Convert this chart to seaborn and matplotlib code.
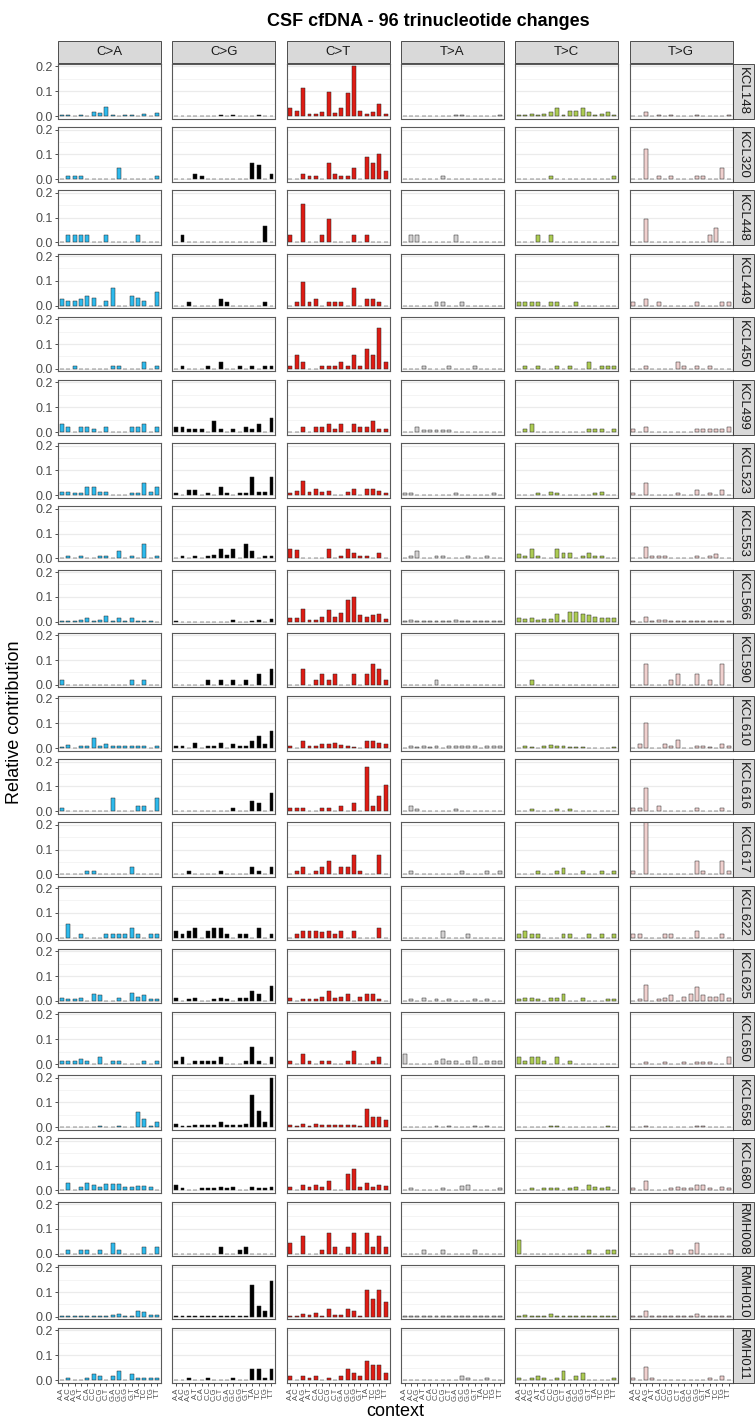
import matplotlib
matplotlib.use("Agg")
import matplotlib.pyplot as plt
import numpy as np
import pandas as pd
import seaborn as sns
from matplotlib.patches import Rectangle

sns.set_theme(style="white")
plt.rcParams['font.family'] = ['Liberation Sans', 'DejaVu Sans']

mut_types = ["C>A", "C>G", "C>T", "T>A", "T>C", "T>G"]
contexts = ["A.A", "A.C", "A.G", "A.T", "C.A", "C.C", "C.G", "C.T",
            "G.A", "G.C", "G.G", "G.T", "T.A", "T.C", "T.G", "T.T"]
type_colors = ["#2EBAED", "#000000", "#DE1C14", "#D4D2D2", "#ADCC54", "#F0D0CE"]
samples = ["KCL148", "KCL320", "KCL448", "KCL449", "KCL450", "KCL499", "KCL523",
           "KCL553", "KCL566", "KCL590", "KCL610", "KCL616", "KCL617", "KCL622",
           "KCL625", "KCL650", "KCL658", "KCL680", "RMH008", "RMH010", "RMH011"]

# each sample: six lists of 16 values (C>A, C>G, C>T, T>A, T>C, T>G)
KCL148 = [
    [0.003, 0.004, 0.002, 0.004, 0.002, 0.015, 0.012, 0.035, 0.004, 0, 0.004, 0.006, 0, 0.008, 0, 0.012],
    [0, 0, 0, 0, 0, 0, 0, 0.003, 0, 0.003, 0, 0, 0, 0.003, 0, 0],
    [0.032, 0.02, 0.112, 0.007, 0.01, 0.017, 0.095, 0.012, 0.033, 0.092, 0.203, 0.022, 0.008, 0.015, 0.05, 0.01],
    [0, 0, 0, 0, 0, 0, 0, 0.002, 0.003, 0.003, 0, 0, 0, 0, 0, 0.004],
    [0.006, 0.006, 0.007, 0.003, 0.008, 0.018, 0.032, 0.006, 0.022, 0.02, 0.032, 0.015, 0.005, 0.01, 0.016, 0.006],
    [0, 0, 0.015, 0, 0.003, 0, 0.003, 0, 0, 0, 0.003, 0, 0, 0, 0, 0.004]]
KCL320 = [
    [0, 0.012, 0.012, 0.012, 0, 0, 0, 0, 0, 0.045, 0, 0, 0, 0, 0, 0.013],
    [0, 0, 0, 0.022, 0.012, 0, 0, 0, 0, 0, 0, 0, 0.067, 0.058, 0, 0.022],
    [0, 0, 0.022, 0.013, 0.013, 0, 0.067, 0.022, 0.013, 0.013, 0.045, 0, 0.09, 0.067, 0.1, 0.033],
    [0, 0, 0, 0, 0, 0, 0.012, 0, 0, 0, 0, 0, 0, 0, 0, 0],
    [0, 0, 0, 0, 0, 0.012, 0, 0, 0, 0, 0, 0, 0, 0, 0, 0.012],
    [0, 0, 0.122, 0, 0.012, 0, 0.012, 0, 0, 0, 0.012, 0.012, 0, 0, 0.045, 0]]
KCL448 = [
    [0, 0.03, 0.03, 0.03, 0.03, 0, 0, 0.03, 0, 0, 0, 0, 0.03, 0, 0, 0],
    [0, 0.03, 0, 0, 0, 0, 0, 0, 0, 0, 0, 0, 0, 0, 0.065, 0],
    [0.03, 0, 0.155, 0, 0, 0.03, 0.095, 0, 0, 0, 0.03, 0, 0.03, 0, 0, 0],
    [0, 0.03, 0.03, 0, 0, 0, 0, 0, 0.03, 0, 0, 0, 0, 0, 0, 0],
    [0, 0, 0, 0.03, 0, 0.03, 0, 0, 0, 0, 0, 0, 0, 0, 0, 0],
    [0, 0, 0.095, 0, 0, 0, 0, 0, 0, 0, 0, 0, 0.03, 0.06, 0, 0]]
KCL449 = [
    [0.027, 0.017, 0.017, 0.027, 0.04, 0.03, 0, 0.017, 0.07, 0, 0, 0.04, 0.03, 0.017, 0, 0.055],
    [0, 0, 0.013, 0, 0, 0, 0, 0.027, 0.013, 0, 0, 0, 0, 0, 0.013, 0],
    [0, 0.013, 0.097, 0.013, 0.027, 0, 0.013, 0.013, 0.013, 0, 0.07, 0, 0.027, 0.027, 0.013, 0],
    [0, 0, 0, 0, 0, 0.013, 0.013, 0, 0, 0.013, 0, 0, 0, 0, 0, 0],
    [0.013, 0.013, 0.013, 0.013, 0, 0.013, 0.013, 0, 0, 0.013, 0, 0, 0, 0, 0, 0],
    [0.013, 0, 0.027, 0, 0.013, 0, 0, 0, 0, 0, 0.013, 0, 0, 0, 0.013, 0.013]]
KCL450 = [
    [0, 0, 0.013, 0, 0, 0, 0, 0, 0.013, 0.013, 0, 0, 0, 0.027, 0, 0.013],
    [0, 0.013, 0, 0, 0, 0.013, 0, 0.027, 0, 0, 0.013, 0, 0.013, 0, 0.013, 0.013],
    [0.013, 0.055, 0.027, 0, 0, 0.013, 0.013, 0.013, 0.027, 0.013, 0.055, 0.013, 0.082, 0.055, 0.165, 0.027],
    [0, 0, 0, 0.013, 0, 0, 0, 0.013, 0, 0, 0, 0.013, 0, 0, 0, 0],
    [0, 0.013, 0, 0.013, 0, 0, 0.013, 0, 0.013, 0, 0, 0.027, 0, 0.013, 0.013, 0.013],
    [0, 0, 0.013, 0, 0, 0, 0, 0.027, 0.013, 0, 0.013, 0, 0.013, 0, 0, 0]]
KCL499 = [
    [0.033, 0.022, 0, 0.022, 0.022, 0.011, 0, 0.022, 0, 0, 0, 0.022, 0.022, 0.033, 0, 0.022],
    [0.022, 0.022, 0.011, 0.011, 0.011, 0, 0.044, 0.011, 0, 0.011, 0, 0.022, 0.011, 0.033, 0, 0.055],
    [0, 0, 0.022, 0, 0.022, 0.022, 0.033, 0.011, 0.033, 0, 0.033, 0.022, 0.022, 0.044, 0.011, 0.011],
    [0, 0, 0.022, 0.008, 0.008, 0.008, 0.008, 0.008, 0, 0, 0, 0, 0, 0, 0, 0],
    [0, 0.011, 0.033, 0, 0, 0, 0, 0, 0, 0, 0, 0.011, 0.011, 0.011, 0, 0.011],
    [0.011, 0, 0.022, 0, 0, 0, 0, 0, 0, 0, 0.011, 0.011, 0.011, 0.011, 0.011, 0.022]]
KCL523 = [
    [0.015, 0.015, 0.01, 0.01, 0.033, 0.033, 0.015, 0.015, 0, 0, 0, 0.01, 0.01, 0.048, 0.015, 0.033],
    [0.01, 0, 0.022, 0.022, 0, 0.01, 0, 0.033, 0.01, 0, 0.01, 0.01, 0.072, 0.015, 0.015, 0.072],
    [0.01, 0.018, 0.057, 0.012, 0.025, 0.015, 0.018, 0, 0, 0.012, 0.025, 0, 0.025, 0.025, 0.018, 0.01],
    [0.01, 0.01, 0, 0, 0, 0, 0, 0, 0.01, 0, 0, 0, 0, 0, 0.01, 0],
    [0, 0, 0, 0.01, 0, 0.015, 0.01, 0, 0, 0, 0, 0, 0.01, 0.015, 0, 0],
    [0.01, 0, 0.048, 0, 0, 0, 0, 0.01, 0, 0, 0.022, 0, 0.01, 0, 0.022, 0]]
KCL553 = [
    [0, 0.01, 0, 0.01, 0, 0, 0.01, 0.01, 0, 0.03, 0, 0.01, 0, 0.06, 0, 0.01],
    [0, 0.01, 0, 0.01, 0, 0.01, 0.013, 0.038, 0.013, 0.04, 0, 0.058, 0.03, 0, 0.01, 0.01],
    [0.04, 0.032, 0, 0, 0, 0, 0.04, 0, 0.01, 0.04, 0.02, 0.01, 0.01, 0, 0.02, 0],
    [0, 0.01, 0.03, 0, 0, 0.01, 0.01, 0, 0, 0, 0.01, 0, 0, 0.01, 0, 0],
    [0.018, 0.01, 0.04, 0.01, 0, 0, 0.04, 0.02, 0.02, 0, 0.01, 0.02, 0.01, 0.01, 0, 0],
    [0, 0, 0.048, 0.01, 0.01, 0.01, 0, 0, 0, 0, 0.01, 0, 0.01, 0.018, 0, 0]]
KCL566 = [
    [0.002, 0.003, 0.002, 0.007, 0.013, 0.004, 0.007, 0.022, 0.004, 0.013, 0.003, 0.015, 0.004, 0.003, 0.002, 0],
    [0.004, 0, 0, 0, 0, 0, 0, 0, 0, 0.008, 0, 0, 0.004, 0.008, 0, 0.01],
    [0.015, 0.015, 0.05, 0.008, 0.008, 0.02, 0.045, 0.02, 0.035, 0.087, 0.1, 0.027, 0.017, 0.027, 0.03, 0.01],
    [0.003, 0.008, 0.002, 0.004, 0.002, 0.003, 0.004, 0.003, 0.006, 0.002, 0.004, 0.002, 0.003, 0.002, 0.003, 0.002],
    [0.013, 0.01, 0.015, 0.005, 0.01, 0.012, 0.03, 0.005, 0.037, 0.037, 0.03, 0.028, 0.02, 0.015, 0.015, 0.015],
    [0.003, 0, 0.017, 0.003, 0.005, 0.005, 0.003, 0.002, 0.003, 0.002, 0.003, 0.002, 0.002, 0.002, 0.002, 0.002]]
KCL590 = [
    [0.02, 0, 0, 0, 0, 0, 0, 0, 0, 0, 0, 0.02, 0, 0.02, 0, 0],
    [0, 0, 0, 0, 0, 0.02, 0, 0.02, 0, 0.02, 0, 0.02, 0, 0.042, 0, 0.062],
    [0, 0, 0.062, 0, 0.021, 0.042, 0.021, 0.042, 0, 0, 0.042, 0, 0.042, 0.083, 0.062, 0.021],
    [0, 0, 0, 0, 0, 0.021, 0, 0, 0, 0, 0, 0, 0, 0, 0, 0],
    [0, 0, 0.021, 0, 0, 0, 0, 0, 0, 0, 0, 0, 0, 0, 0, 0],
    [0, 0, 0.083, 0, 0, 0, 0.021, 0.042, 0, 0, 0.042, 0, 0.021, 0, 0.083, 0]]
KCL610 = [
    [0.005, 0.013, 0, 0.01, 0.007, 0.04, 0.008, 0.015, 0.01, 0.008, 0.01, 0.01, 0.01, 0.01, 0, 0.01],
    [0.01, 0.01, 0, 0.02, 0, 0.01, 0.01, 0.02, 0, 0.015, 0.008, 0.008, 0.03, 0.048, 0.015, 0.068],
    [0.01, 0, 0.03, 0.008, 0.008, 0.015, 0.015, 0.02, 0.012, 0.01, 0.005, 0, 0.03, 0.027, 0.022, 0.018],
    [0, 0.008, 0.003, 0.008, 0.003, 0.008, 0, 0.008, 0.008, 0.008, 0.008, 0.008, 0, 0.008, 0.008, 0.008],
    [0, 0.008, 0.004, 0, 0.008, 0.013, 0.01, 0.008, 0.006, 0.006, 0.006, 0, 0, 0, 0, 0.004],
    [0, 0.015, 0.1, 0, 0, 0.015, 0.008, 0.032, 0, 0, 0.008, 0.008, 0.004, 0, 0.018, 0.01]]
KCL616 = [
    [0.013, 0, 0, 0, 0, 0, 0, 0, 0.053, 0, 0, 0, 0.022, 0.022, 0, 0.053],
    [0, 0, 0, 0, 0, 0, 0, 0, 0, 0.012, 0, 0, 0.042, 0.033, 0, 0.072],
    [0.012, 0.012, 0.012, 0, 0, 0.012, 0.012, 0, 0.022, 0, 0.032, 0, 0.177, 0.022, 0.062, 0.105],
    [0, 0.02, 0.01, 0, 0, 0, 0, 0, 0.01, 0, 0, 0, 0, 0, 0, 0],
    [0, 0, 0.01, 0, 0, 0, 0.01, 0, 0.01, 0, 0, 0, 0, 0, 0, 0],
    [0.012, 0.012, 0.093, 0, 0.022, 0, 0, 0, 0, 0, 0.012, 0, 0, 0, 0.012, 0]]
KCL617 = [
    [0, 0, 0, 0, 0.015, 0.015, 0, 0, 0, 0, 0, 0.03, 0, 0, 0, 0],
    [0, 0, 0.013, 0, 0, 0, 0, 0.013, 0, 0, 0, 0, 0.028, 0.013, 0, 0.028],
    [0, 0.015, 0.028, 0, 0.015, 0.028, 0.055, 0, 0.028, 0.028, 0.08, 0.015, 0, 0, 0.08, 0],
    [0, 0.013, 0, 0, 0, 0, 0, 0, 0, 0.013, 0, 0, 0, 0.013, 0, 0.013],
    [0, 0, 0, 0.013, 0, 0, 0.013, 0.027, 0, 0, 0.013, 0, 0, 0.013, 0, 0.013],
    [0.013, 0, 0.22, 0, 0, 0, 0, 0, 0, 0, 0.055, 0.013, 0, 0, 0.055, 0.013]]
KCL622 = [
    [0, 0.055, 0, 0.013, 0, 0, 0, 0.013, 0.013, 0.013, 0.013, 0.04, 0.013, 0, 0.013, 0.013],
    [0.028, 0.013, 0.028, 0.04, 0, 0.028, 0.04, 0.04, 0.013, 0, 0.013, 0.013, 0, 0.04, 0, 0.013],
    [0, 0.013, 0.028, 0.028, 0.028, 0.022, 0.028, 0.013, 0.028, 0, 0.028, 0, 0, 0, 0.04, 0],
    [0, 0, 0, 0, 0, 0, 0.028, 0, 0, 0, 0.013, 0, 0, 0, 0, 0],
    [0.013, 0.027, 0.013, 0.013, 0, 0, 0, 0.013, 0.013, 0, 0, 0.013, 0, 0.013, 0, 0.013],
    [0.013, 0.013, 0, 0, 0, 0.013, 0.013, 0, 0, 0, 0.028, 0, 0, 0, 0.013, 0]]
KCL625 = [
    [0.013, 0.008, 0.008, 0.013, 0, 0.027, 0.022, 0, 0, 0.013, 0, 0.033, 0.017, 0.022, 0.008, 0.008],
    [0.013, 0, 0.008, 0.013, 0, 0, 0.008, 0.013, 0.008, 0, 0.013, 0.013, 0.04, 0.027, 0, 0.058],
    [0.013, 0, 0.006, 0.006, 0.008, 0.017, 0.04, 0.013, 0.017, 0.027, 0, 0.017, 0.027, 0.027, 0.008, 0],
    [0, 0.008, 0, 0.013, 0, 0.008, 0, 0.008, 0, 0, 0, 0.008, 0, 0.008, 0, 0],
    [0.008, 0.013, 0.013, 0.008, 0, 0.013, 0.013, 0.027, 0, 0, 0.013, 0, 0, 0, 0.008, 0.008],
    [0, 0.008, 0.062, 0, 0.008, 0.013, 0.022, 0, 0.017, 0.027, 0.055, 0.022, 0.017, 0.017, 0.027, 0.013]]
KCL650 = [
    [0.013, 0.013, 0.013, 0.022, 0.013, 0, 0.027, 0, 0.013, 0.013, 0, 0, 0, 0.013, 0, 0.013],
    [0.013, 0.027, 0, 0.013, 0.013, 0.013, 0.013, 0.027, 0, 0, 0, 0.013, 0.067, 0.013, 0, 0.027],
    [0.013, 0, 0.04, 0.013, 0, 0.013, 0.013, 0, 0, 0.013, 0.053, 0, 0, 0.013, 0.027, 0],
    [0.04, 0, 0, 0, 0, 0.013, 0.022, 0.013, 0.013, 0, 0.013, 0.027, 0, 0.013, 0.013, 0.013],
    [0.027, 0.013, 0.027, 0.027, 0.013, 0, 0.027, 0, 0.013, 0, 0, 0, 0, 0, 0, 0],
    [0, 0, 0.008, 0, 0, 0.008, 0, 0, 0.008, 0, 0.008, 0.008, 0.008, 0, 0, 0.027]]
KCL658 = [
    [0.002, 0.002, 0, 0.002, 0.002, 0.002, 0.004, 0.002, 0.002, 0.003, 0.002, 0.002, 0.06, 0.035, 0.003, 0.022],
    [0.012, 0.006, 0.006, 0.01, 0.01, 0.008, 0.01, 0.022, 0.01, 0.008, 0.008, 0.013, 0.13, 0.067, 0.022, 0.2],
    [0.01, 0.004, 0.012, 0.004, 0.013, 0.008, 0.008, 0.008, 0.008, 0.01, 0.01, 0.004, 0.075, 0.04, 0.04, 0.03],
    [0.002, 0.002, 0.002, 0.002, 0.002, 0.004, 0.002, 0.003, 0.002, 0.002, 0.002, 0.004, 0.002, 0.003, 0.002, 0.002],
    [0.002, 0.002, 0.002, 0.002, 0.002, 0.003, 0.006, 0.002, 0.002, 0.002, 0.002, 0.002, 0.002, 0.002, 0.003, 0.002],
    [0.002, 0.002, 0.004, 0.002, 0.002, 0.002, 0.002, 0.002, 0.002, 0.002, 0.006, 0.006, 0.002, 0.002, 0.002, 0.002]]
KCL680 = [
    [0, 0.03, 0, 0.015, 0.03, 0.02, 0.013, 0.025, 0.025, 0.025, 0.012, 0.012, 0.017, 0.017, 0.012, 0],
    [0.022, 0.01, 0, 0, 0.01, 0.01, 0.01, 0.015, 0.01, 0.015, 0, 0, 0.015, 0.01, 0.01, 0.015],
    [0.015, 0, 0.022, 0.012, 0.022, 0.015, 0.037, 0, 0, 0.067, 0.088, 0.012, 0.03, 0.012, 0.022, 0.017],
    [0, 0.008, 0, 0, 0, 0, 0.008, 0, 0, 0.017, 0.022, 0, 0, 0, 0, 0.008],
    [0, 0, 0.008, 0, 0.008, 0.008, 0.008, 0, 0.008, 0.015, 0, 0.022, 0.015, 0.008, 0.015, 0],
    [0.008, 0, 0.037, 0, 0, 0, 0.008, 0.015, 0.008, 0.008, 0.022, 0.022, 0.008, 0, 0.015, 0.008]]
RMH008 = [
    [0, 0.014, 0, 0.014, 0.014, 0, 0.014, 0, 0.042, 0.014, 0, 0, 0, 0.028, 0, 0.028],
    [0, 0, 0, 0, 0, 0, 0, 0.028, 0, 0, 0.014, 0.028, 0, 0, 0, 0],
    [0.042, 0, 0.07, 0, 0, 0.014, 0.083, 0.028, 0, 0.028, 0.083, 0, 0.083, 0.028, 0.07, 0.028],
    [0, 0, 0, 0.014, 0, 0, 0.014, 0, 0, 0, 0, 0.014, 0, 0, 0, 0],
    [0.056, 0, 0, 0, 0, 0, 0, 0, 0, 0, 0, 0.014, 0, 0, 0.014, 0.014],
    [0, 0, 0, 0, 0, 0, 0.014, 0, 0, 0.014, 0.042, 0, 0, 0, 0, 0]]
RMH010 = [
    [0.002, 0.002, 0.002, 0.003, 0.003, 0.003, 0.003, 0.004, 0.007, 0.01, 0.003, 0.002, 0.025, 0.02, 0.008, 0.008],
    [0.002, 0.002, 0.002, 0.004, 0.002, 0.002, 0.003, 0.002, 0.003, 0.005, 0.002, 0.002, 0.128, 0.042, 0.025, 0.143],
    [0.002, 0.005, 0.012, 0.008, 0.015, 0.005, 0.03, 0.008, 0.008, 0.03, 0.025, 0.005, 0.11, 0.072, 0.107, 0.06],
    [0.002, 0.002, 0.002, 0.002, 0.002, 0.004, 0.002, 0.002, 0.002, 0.002, 0.002, 0.002, 0.002, 0.002, 0.003, 0.002],
    [0.002, 0.006, 0.002, 0.003, 0.002, 0.012, 0.003, 0.003, 0.002, 0.003, 0.002, 0.002, 0.003, 0.002, 0.002, 0.002],
    [0.002, 0.003, 0.025, 0.002, 0.002, 0.003, 0.002, 0.002, 0.002, 0.002, 0.01, 0.004, 0.003, 0.002, 0.002, 0.002]]
RMH011 = [
    [0, 0.008, 0, 0, 0.008, 0.025, 0.018, 0, 0.018, 0.035, 0, 0.025, 0.01, 0.008, 0.008, 0.008],
    [0, 0, 0.008, 0, 0, 0.008, 0, 0, 0, 0.008, 0, 0, 0.045, 0.045, 0.008, 0.045],
    [0.018, 0, 0.018, 0.01, 0.018, 0, 0.008, 0, 0.018, 0.045, 0.027, 0.018, 0.078, 0.062, 0.062, 0.027],
    [0, 0, 0, 0, 0, 0, 0, 0, 0, 0.018, 0.008, 0, 0, 0.008, 0, 0],
    [0.008, 0, 0.008, 0.018, 0.008, 0, 0.01, 0.035, 0, 0.018, 0.027, 0, 0, 0, 0, 0.008],
    [0.008, 0, 0.053, 0.008, 0, 0, 0, 0, 0, 0, 0, 0, 0.008, 0, 0.018, 0]]

sample_data = {
    "KCL148": KCL148, "KCL320": KCL320, "KCL448": KCL448, "KCL449": KCL449,
    "KCL450": KCL450, "KCL499": KCL499, "KCL523": KCL523, "KCL553": KCL553,
    "KCL566": KCL566, "KCL590": KCL590, "KCL610": KCL610, "KCL616": KCL616,
    "KCL617": KCL617, "KCL622": KCL622, "KCL625": KCL625, "KCL650": KCL650,
    "KCL658": KCL658, "KCL680": KCL680, "RMH008": RMH008, "RMH010": RMH010,
    "RMH011": RMH011}

# ---------------- layout (pixels) ----------------
W, H = 756, 1418
fig = plt.figure(figsize=(W / 100, H / 100), dpi=100)
fig.patch.set_facecolor("white")

left0, colpitch, pw = 58.0, 114.3, 103.0
top0, rowpitch, ph = 64.0, 63.2, 54.5
strip_top_h = 22.0
strip_right_w = 21.0


def rect(x, y, w, h):
    return [x / W, 1 - (y + h) / H, w / W, h / H]


nrow = len(samples)
for i, s in enumerate(samples):
    for j, t in enumerate(mut_types):
        x0 = left0 + j * colpitch
        y0 = top0 + i * rowpitch
        ax = fig.add_axes(rect(x0, y0, pw, ph))
        df = pd.DataFrame({"context": contexts, "value": sample_data[s][j]})
        sns.barplot(data=df, x="context", y="value", order=contexts,
                    color=type_colors[j], saturation=1, width=0.62,
                    edgecolor="#262626", linewidth=0.35, errorbar=None, ax=ax)
        ax.set_xlim(-0.6, 15.6)
        ax.set_ylim(-0.01, 0.21)
        ax.set_xlabel("")
        ax.set_ylabel("")
        ax.set_yticks([0.0, 0.1, 0.2])
        ax.set_yticks([0.05, 0.15], minor=True)
        ax.yaxis.grid(True, which="major", color="#EBEBEB", linewidth=0.9)
        ax.yaxis.grid(True, which="minor", color="#F3F3F3", linewidth=0.6)
        ax.xaxis.grid(False)
        ax.set_axisbelow(True)
        for sp in ax.spines.values():
            sp.set_visible(True)
            sp.set_color("#5A5A5A")
            sp.set_linewidth(0.8)
        ax.tick_params(axis="y", which="minor", length=0)
        if j == 0:
            ax.set_yticklabels(["0.0", "0.1", "0.2"])
            ax.tick_params(axis="y", which="major", left=True, length=2.5,
                           width=0.6, color="#333333", labelsize=9,
                           labelcolor="#4D4D4D", pad=1.5)
        else:
            ax.tick_params(axis="y", which="major", left=False, labelleft=False)
        if i == nrow - 1:
            ax.set_xticks(range(16))
            ax.set_xticklabels(contexts, rotation=90)
            ax.tick_params(axis="x", bottom=True, length=2.5, width=0.6,
                           color="#333333", labelsize=5.5,
                           labelcolor="#4D4D4D", pad=1)
        else:
            ax.tick_params(axis="x", bottom=False, labelbottom=False)

# top strips
for j, t in enumerate(mut_types):
    x0 = left0 + j * colpitch
    y0 = top0 - strip_top_h - 1
    fig.add_artist(Rectangle((x0 / W, 1 - (y0 + strip_top_h) / H),
                             pw / W, strip_top_h / H, transform=fig.transFigure,
                             facecolor="#D9D9D9", edgecolor="#333333", linewidth=0.6))
    fig.text((x0 + pw / 2) / W, 1 - (y0 + strip_top_h / 2) / H, t,
             ha="center", va="center", fontsize=9.5, color="#1A1A1A")

# right strips
xr = left0 + 5 * colpitch + pw
for i, s in enumerate(samples):
    y0 = top0 + i * rowpitch
    fig.add_artist(Rectangle((xr / W, 1 - (y0 + ph) / H),
                             strip_right_w / W, ph / H, transform=fig.transFigure,
                             facecolor="#D9D9D9", edgecolor="#333333", linewidth=0.6))
    fig.text((xr + strip_right_w / 2) / W, 1 - (y0 + ph / 2) / H, s,
             ha="center", va="center", rotation=-90, fontsize=9.5, color="#1A1A1A")

fig.text(428 / W, 1 - 21 / H, "CSF cfDNA - 96 trinucleotide changes",
         ha="center", va="center", fontsize=13, fontweight="bold", color="black")
fig.text(15 / W, 1 - 722 / H, "Relative contribution", rotation=90,
         ha="center", va="center", fontsize=13, color="black")
fig.text(395 / W, 1 - 1411 / H, "context", ha="center", va="center",
         fontsize=13, color="black")

fig.savefig("out.png", dpi=100)
